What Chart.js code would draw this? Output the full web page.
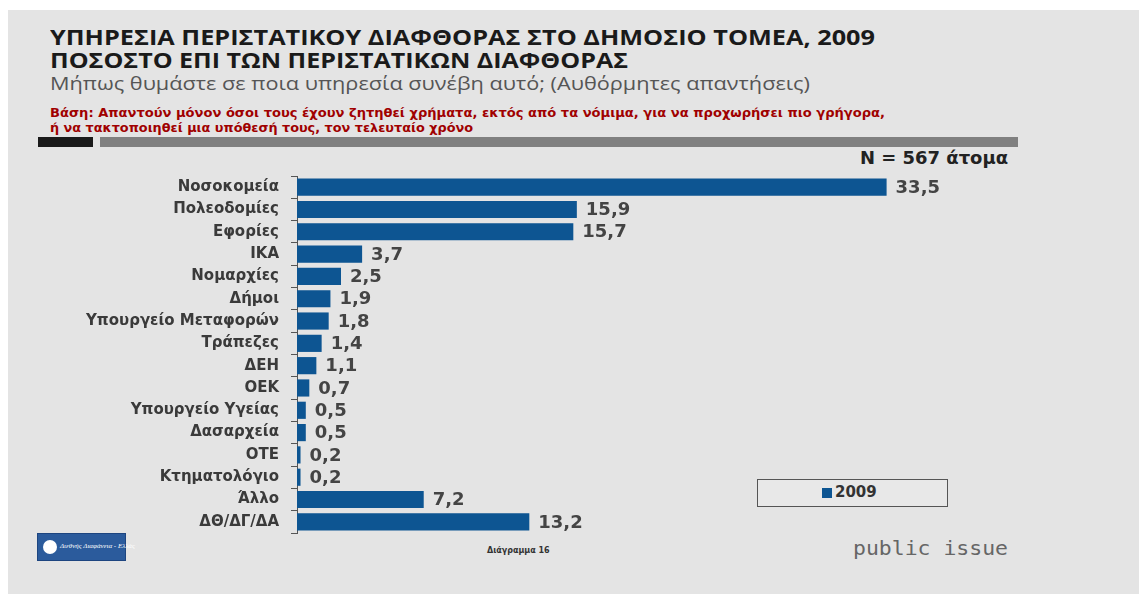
<!DOCTYPE html>
<html>
<head>
<meta charset="utf-8">
<script src="https://cdn.jsdelivr.net/npm/chart.js@4/dist/chart.umd.min.js"></script>
<style>
html,body{margin:0;padding:0;background:#fff;}
body{width:1139px;height:594px;position:relative;overflow:hidden;font-family:"Open Sans","DejaVu Sans",sans-serif;}
#bg{position:absolute;left:8px;top:10px;right:0;bottom:0;background:#e4e4e4;}
.t{position:absolute;white-space:nowrap;transform-origin:0 50%;}
#c{position:absolute;left:0;top:0;}
</style>
</head>
<body>
<div id="bg"></div>
<div class="t" data-w="825" style="left:50px;top:22px;font-size:21px;line-height:30px;font-weight:bold;color:#1a1a1a;">ΥΠΗΡΕΣΙΑ ΠΕΡΙΣΤΑΤΙΚΟΥ ΔΙΑΦΘΟΡΑΣ ΣΤΟ ΔΗΜΟΣΙΟ ΤΟΜΕΑ, 2009</div>
<div class="t" data-w="578" style="left:50px;top:45px;font-size:21px;line-height:30px;font-weight:bold;color:#1a1a1a;">ΠΟΣΟΣΤΟ ΕΠΙ ΤΩΝ ΠΕΡΙΣΤΑΤΙΚΩΝ ΔΙΑΦΘΟΡΑΣ</div>
<div class="t" data-w="760" style="left:50px;top:70px;font-size:18px;line-height:26px;color:#555;">Μήπως θυμάστε σε ποια υπηρεσία συνέβη αυτό; (Αυθόρμητες απαντήσεις)</div>
<div class="t" data-w="835" style="left:50px;top:105px;font-size:12px;line-height:16px;font-weight:bold;color:#a00000;font-family:'DejaVu Sans',sans-serif;">Βάση: Απαντούν μόνον όσοι τους έχουν ζητηθεί χρήματα, εκτός από τα νόμιμα, για να προχωρήσει πιο γρήγορα,</div>
<div class="t" data-w="423" style="left:50px;top:120px;font-size:12px;line-height:16px;font-weight:bold;color:#a00000;font-family:'DejaVu Sans',sans-serif;">ή να τακτοποιηθεί μια υπόθεσή τους, τον τελευταίο χρόνο</div>
<div style="position:absolute;left:38px;top:137px;width:55px;height:10px;background:#1a1a1a;"></div>
<div style="position:absolute;left:100px;top:137px;width:918px;height:10px;background:#808080;"></div>
<div class="t" data-w="148" style="left:860px;top:147px;font-size:17px;line-height:22px;font-weight:bold;color:#222;font-family:'DejaVu Sans',sans-serif;">N = 567 άτομα</div>
<div style="position:absolute;left:757px;top:479px;width:189px;height:26px;border:1px solid #555;background:#e8e8e8;"></div>
<div style="position:absolute;left:822px;top:488px;width:10px;height:10px;background:#0d5592;"></div>
<div class="t" style="left:835px;top:482px;font-size:15px;line-height:20px;font-weight:bold;color:#333;font-family:'DejaVu Sans',sans-serif;">2009</div>
<div class="t" data-w="155" style="left:853px;top:535px;font-size:20px;line-height:26px;color:#666;font-family:'DejaVu Sans Mono',monospace;">public issue</div>
<div class="t" style="left:487px;top:546px;font-size:8px;line-height:10px;font-weight:bold;color:#333;font-family:'DejaVu Sans',sans-serif;">Διάγραμμα 16</div>
<div style="position:absolute;left:37px;top:533px;width:89px;height:28px;background:#2b5b9c;border:1px solid #1d4580;box-sizing:border-box;">
  <div style="position:absolute;left:5px;top:6px;width:14px;height:14px;border-radius:50%;background:#fff;"></div>
  <div class="t" style="left:22px;top:8px;font-size:7px;font-style:italic;color:#fff;font-family:'Liberation Serif',serif;">Διεθνής Διαφάνεια - Ελλάς</div>
</div>
<canvas id="c" width="1139" height="594"></canvas>
<script>
const categories = ["Νοσοκομεία","Πολεοδομίες","Εφορίες","ΙΚΑ","Νομαρχίες","Δήμοι","Υπουργείο Μεταφορών","Τράπεζες","ΔΕΗ","ΟΕΚ","Υπουργείο Υγείας","Δασαρχεία","ΟΤΕ","Κτηματολόγιο","Άλλο","ΔΘ/ΔΓ/ΔΑ"];
const values2009 = [33.5,15.9,15.7,3.7,2.5,1.9,1.8,1.4,1.1,0.7,0.5,0.5,0.2,0.2,7.2,13.2];
const seriesName = "2009";

document.querySelectorAll('.t[data-w]').forEach(el=>{
  const w = el.getBoundingClientRect().width;
  const target = parseFloat(el.dataset.w);
  if (w > 0) el.style.transform = 'scaleX(' + (target / w) + ')';
});

const valueLabels = {
  id:'valueLabels',
  afterDatasetsDraw(chart){
    const ctx = chart.ctx;
    const meta = chart.getDatasetMeta(0);
    ctx.save();
    ctx.font = 'bold 18px "DejaVu Sans", sans-serif';
    ctx.fillStyle = '#444';
    ctx.textAlign = 'left';
    ctx.textBaseline = 'middle';
    meta.data.forEach((bar,i)=>{
      const v = chart.data.datasets[0].data[i];
      ctx.fillText(v.toFixed(1).replace('.',','), bar.x + 9, bar.y + 1);
    });
    ctx.restore();
  }
};

new Chart(document.getElementById('c'), {
  type:'bar',
  data:{
    labels:categories,
    datasets:[{label:seriesName,data:values2009,backgroundColor:'#0d5592',borderWidth:0,barPercentage:0.77,categoryPercentage:1}]
  },
  options:{
    indexAxis:'y',
    responsive:false,
    animation:false,
    layout:{padding:{left:0,right:138,top:176,bottom:61}},
    plugins:{legend:{display:false},tooltip:{enabled:false}},
    scales:{
      x:{display:false,min:0,max:40},
      y:{
        afterFit(scale){scale.width=297;},
        grid:{display:true,drawOnChartArea:false,drawTicks:true,tickLength:6,color:'#555',offset:true},
        border:{display:true,color:'#555',width:1},
        ticks:{font:{family:'"DejaVu Sans", sans-serif',weight:'bold',size:15},color:'#3a3a3a',padding:12}
      }
    }
  },
  plugins:[valueLabels]
});
</script>
</body>
</html>
